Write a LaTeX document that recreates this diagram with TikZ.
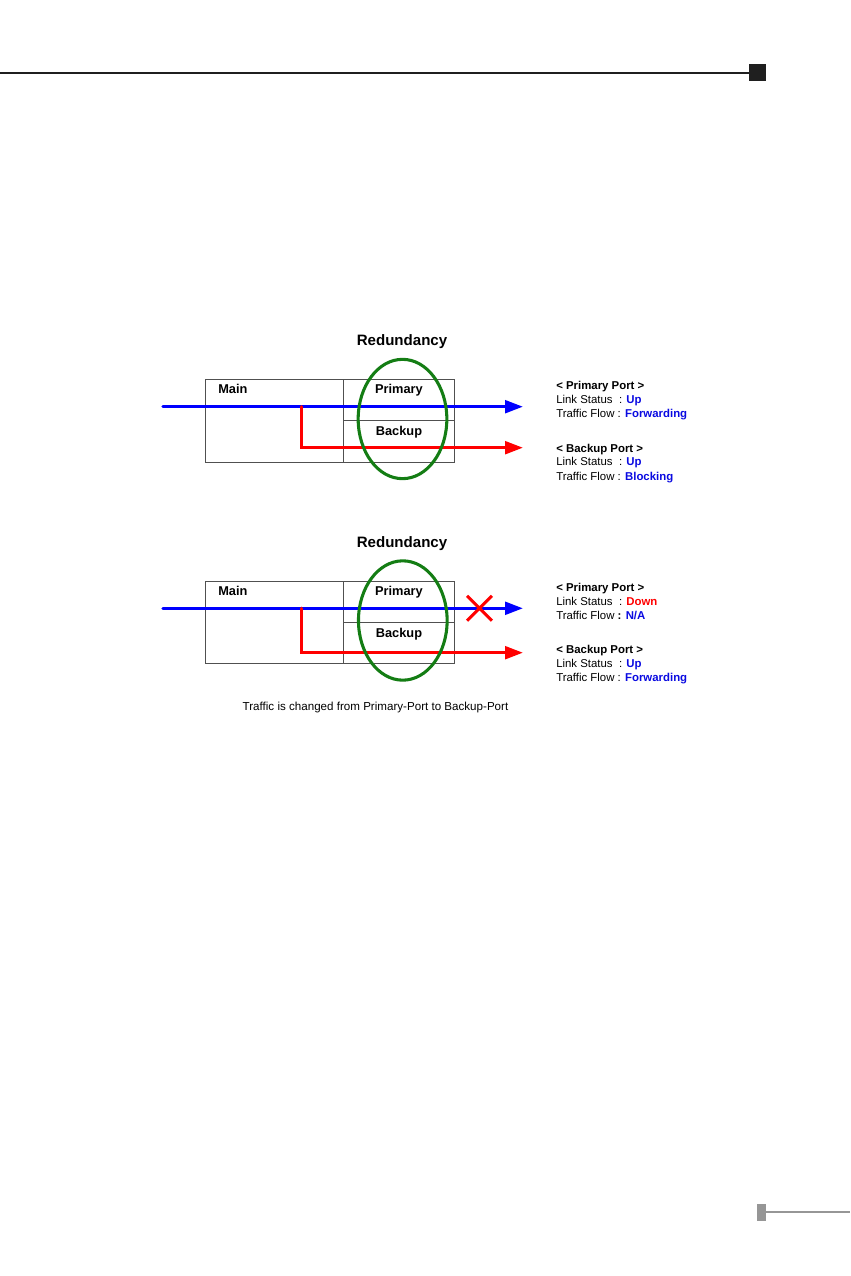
\documentclass[tikz,border=0pt]{standalone}
\usepackage{fontspec}
\setmainfont{Liberation Sans}
\usetikzlibrary{arrows.meta,shapes.geometric,shapes.misc}
\definecolor{lblue}{RGB}{0,0,255}
\definecolor{tblue}{RGB}{10,10,225}
\definecolor{lred}{RGB}{255,0,0}
\definecolor{egreen}{RGB}{20,125,20}
\definecolor{boxgray}{RGB}{80,80,80}
\definecolor{footgray}{RGB}{150,150,150}
\tikzset{
  portbox/.style={draw=boxgray, line width=0.6pt, rectangle, anchor=north west, inner sep=0pt},
  lbl/.style={font=\fontsize{9.6}{11}\selectfont\bfseries, anchor=base, inner sep=0pt},
  ttl/.style={font=\fontsize{11.3}{13}\selectfont\bfseries, anchor=base, inner sep=0pt},
  info/.style={font=\fontsize{8.55}{10}\selectfont, anchor=base west, inner sep=0pt},
  captext/.style={font=\fontsize{8.7}{10}\selectfont, anchor=base, inner sep=0pt},
  flowblue/.style={draw=lblue, line width=2.4pt, line cap=round, -{Triangle[length=13.5pt,width=9.5pt]}},
  flowred/.style={draw=lred, line width=2.4pt, line cap=round, -{Triangle[length=13.5pt,width=9.5pt]}},
  ring/.style={draw=egreen, line width=2.3pt, ellipse, inner sep=0pt, minimum width=66.5pt, minimum height=89.5pt},
  xmark/.style={draw=lred, cross out, line width=2.2pt, inner sep=0pt, minimum size=16.5pt},
}
\newcommand{\bl}[1]{\textbf{\textcolor{tblue}{#1}}}
\begin{document}
\begin{tikzpicture}[x=0.75pt,y=-0.75pt]
\useasboundingbox (0,0) rectangle (850,1276);
% header
\fill[black!88] (0,72) rectangle (750,74);
\fill[black!88] (749,64) rectangle (766,81);
% footer
\fill[footgray] (757,1204) rectangle (766,1221);
\fill[footgray] (766,1211) rectangle (850,1213);

% ===== Diagram 1 =====
\node[ttl] (t1) at (402,345.5) {Redundancy};
\node[portbox, minimum width=103.5pt, minimum height=62.25pt] (main1) at (205,379) {};
\node[portbox, minimum width=83.25pt, minimum height=30.75pt] (prim1) at (343,379) {};
\node[portbox, minimum width=83.25pt, minimum height=31.5pt] (back1) at (343,420) {};
\node[lbl, anchor=base west] (mt1) at (218,393.6) {Main};
\node[lbl] (pt1) at (399,393.6) {Primary};
\node[lbl] (bt1) at (399,435.3) {Backup};
\coordinate (bs1) at (163,406.7);
\coordinate (be1) at (523,406.7);
\coordinate (rs1) at (301.7,406.7);
\coordinate (re1) at (523,447.7);
\draw[flowblue] (bs1) -- (be1);
\draw[flowred] (rs1) |- (re1);
\node[ring] (e1) at (402.5,419) {};
\node[info] (a1) at (556,389) {\textbf{< Primary Port >}};
\node[info] (a2) at (556,403.3) {Link Status~~: \bl{Up}};
\node[info] (a3) at (556,417.3) {Traffic Flow : \bl{Forwarding}};
\node[info] (a4) at (556,452.3) {\textbf{< Backup Port >}};
\node[info] (a5) at (556,465.7) {Link Status~~: \bl{Up}};
\node[info] (a6) at (556,480) {Traffic Flow : \bl{Blocking}};

% ===== Diagram 2 =====
\node[ttl] (t2) at (402,547) {Redundancy};
\node[portbox, minimum width=103.5pt, minimum height=61.5pt] (main2) at (205,581) {};
\node[portbox, minimum width=83.25pt, minimum height=30.75pt] (prim2) at (343,581) {};
\node[portbox, minimum width=83.25pt, minimum height=30.75pt] (back2) at (343,622) {};
\node[lbl, anchor=base west] (mt2) at (218,595.3) {Main};
\node[lbl] (pt2) at (399,595.3) {Primary};
\node[lbl] (bt2) at (399,637.9) {Backup};
\coordinate (bs2) at (163,608.3);
\coordinate (be2) at (523,608.3);
\coordinate (rs2) at (301.7,608.3);
\coordinate (re2) at (523,652.7);
\draw[flowblue] (bs2) -- (be2);
\draw[flowred] (rs2) |- (re2);
\node[ring] (e2) at (402.8,620.5) {};
\node[xmark] (x2) at (479.5,608.3) {};
\node[info] (c1) at (556,591.3) {\textbf{< Primary Port >}};
\node[info] (c2) at (556,605) {Link Status~~: \textbf{\textcolor{lred}{Down}}};
\node[info] (c3) at (556,619) {Traffic Flow \textbf{: \textcolor{tblue}{N/A}}};
\node[info] (c4) at (556,653) {\textbf{< Backup Port >}};
\node[info] (c5) at (556,667.3) {Link Status~~: \bl{Up}};
\node[info] (c6) at (556,681.3) {Traffic Flow : \bl{Forwarding}};
\node[captext] (cp) at (375.5,710.9) {Traffic is changed from Primary-Port to Backup-Port};
\end{tikzpicture}
\end{document}
